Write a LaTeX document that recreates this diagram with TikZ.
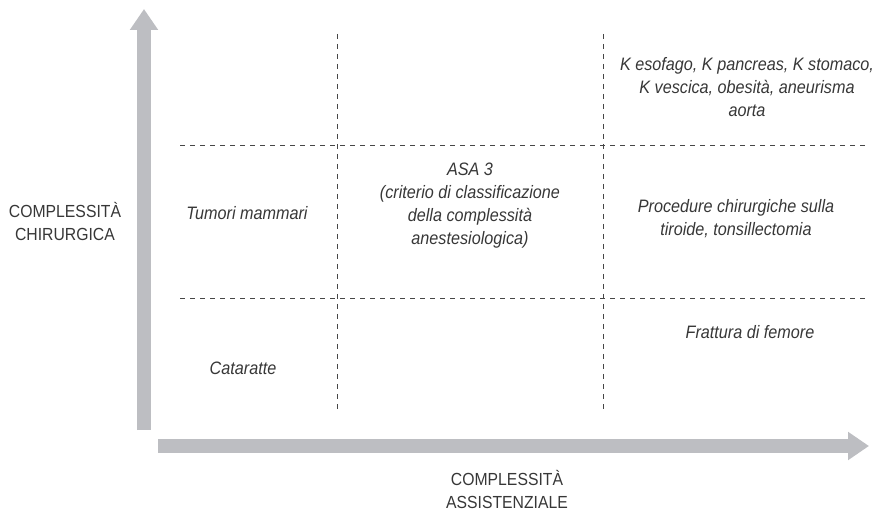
\documentclass[tikz,border=0pt]{standalone}
\usepackage{fontspec}
\setmainfont{Liberation Sans}[FakeStretch=0.9]
\usetikzlibrary{positioning, arrows.meta}

\definecolor{axisgray}{RGB}{189,190,194}
\definecolor{textgray}{RGB}{55,55,55}
\definecolor{linegray}{RGB}{70,70,70}

\begin{document}
\begin{tikzpicture}[x=1pt, y=-1pt, every node/.style={font=\fontsize{18}{23}\selectfont, text=textgray, align=center}]
  % Styles
  \tikzset{
    axis/.style={draw=axisgray, line width=14pt, -{Triangle[length=21pt, width=27pt]}},
    grid/.style={draw=linegray, line width=0.9pt, dash pattern=on 5pt off 5pt},
    cell/.style={font=\fontsize{18}{23}\selectfont\itshape},
    axislabel/.style={font=\fontsize{17.5}{23}\selectfont}
  }
  \useasboundingbox (0,0) rectangle (883,510);

  % Axes
  \coordinate (ybase) at (144,430);
  \coordinate (ytip) at (144,9);
  \coordinate (xbase) at (158,446);
  \coordinate (xtip) at (869,446);
  \draw[axis] (ybase) -- (ytip);
  \draw[axis] (xbase) -- (xtip);

  % Grid
  \coordinate (v1top) at (337,34);
  \coordinate (v1bot) at (337,413);
  \coordinate (v2top) at (603,34);
  \coordinate (v2bot) at (603,413);
  \coordinate (h1left) at (180,145);
  \coordinate (h1right) at (867,145);
  \coordinate (h2left) at (180,298);
  \coordinate (h2right) at (867,298);
  \draw[grid] (v1top) -- (v1bot);
  \draw[grid] (v2top) -- (v2bot);
  \draw[grid] (h1left) -- (h1right);
  \draw[grid] (h2left) -- (h2right);

  % Axis labels
  \node[axislabel] (ylab) at (65,221) {COMPLESSITÀ\\CHIRURGICA};
  \node[axislabel] (xlab) at (507,489) {COMPLESSITÀ\\ASSISTENZIALE};

  % Cells
  \node[cell] (kesof) at (747,87) {K esofago, K pancreas, K stomaco,\\K vescica, obesità, aneurisma\\aorta};
  \node[cell] (tumori) at (247,213) {Tumori mammari};
  \node[cell] (asa) at (470,206) {ASA 3\\(criterio di classificazione\\della complessità\\anestesiologica)};
  \node[cell] (tiroide) at (736,219) {Procedure chirurgiche sulla\\tiroide, tonsillectomia};
  \node[cell] (femore) at (750,332) {Frattura di femore};
  \node[cell] (cataratte) at (243,368) {Cataratte};

\end{tikzpicture}
\end{document}
